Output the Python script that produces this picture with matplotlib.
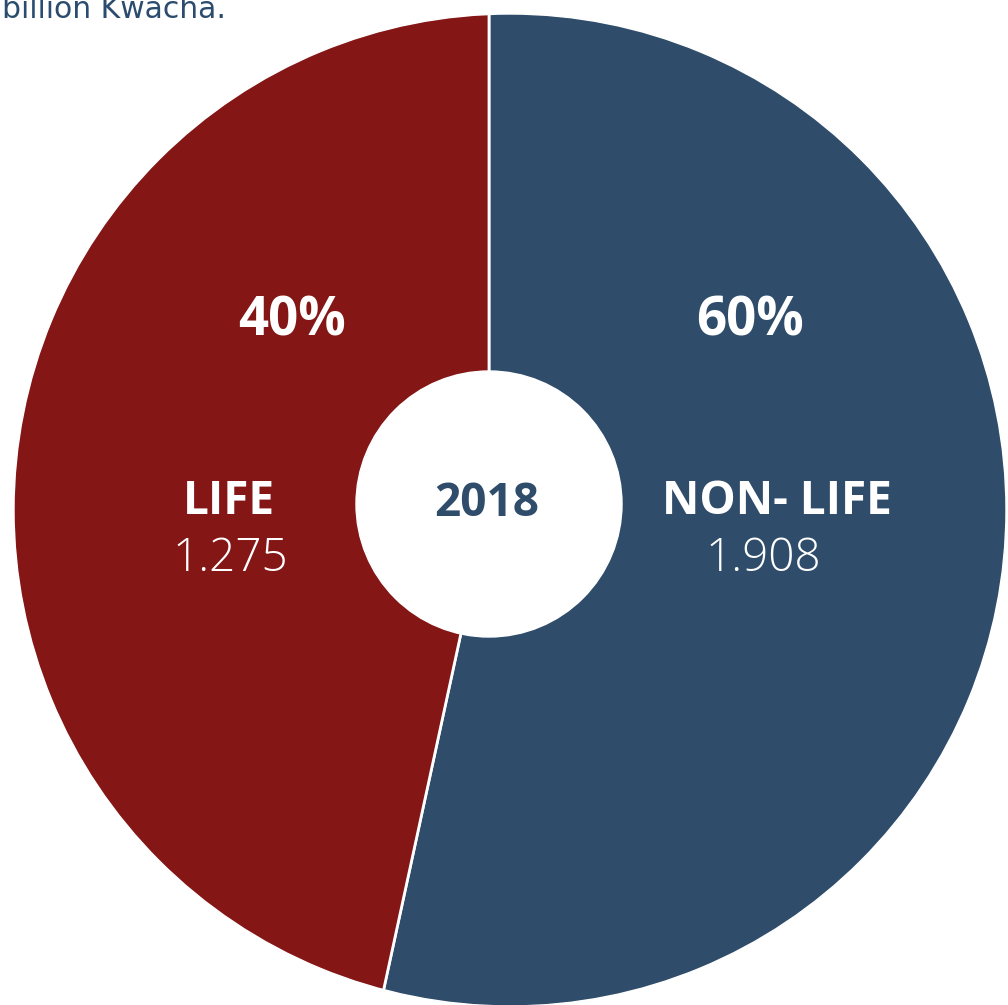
import matplotlib.pyplot as plt
from matplotlib.patches import Circle, Wedge

# data
labels = ['NON- LIFE', 'LIFE']
values = ['1.908', '1.275']
percents = ['60%', '40%']
shares = [53.4, 46.6]  # wedge sizes as drawn in the picture
colors = ['#2F4C6A', '#851616']
year = '2018'
note = 'billion Kwacha.'

W, H = 1008, 1005
fig = plt.figure(figsize=(W / 100, H / 100), dpi=100)
ax = fig.add_axes([0, 0, 1, 1])

# wedge apex / hole centre and outer rim (pixel units, y up)
apex = (489, H - 504)
rim_c, rim_r = (510, H - 510), 496

wedges, _ = ax.pie(shares, colors=colors, startangle=90, counterclock=False,
                   center=apex, radius=600,
                   wedgeprops=dict(edgecolor='white', linewidth=2))
# white mask outside the rim, and the hole
ax.add_patch(Wedge(rim_c, 2000, 0, 360, width=2000 - rim_r, color='white', zorder=3))
ax.add_patch(Circle(apex, 133, color='white', zorder=3))

ax.set_xlim(0, W)
ax.set_ylim(0, H)
ax.axis('off')

bold = dict(family='Open Sans', weight='bold', color='white', ha='center', va='center', zorder=4)
light = dict(family='Open Sans', weight='light', color='white', ha='center', va='center', zorder=4)

# percentages
ax.text(750, H - 321, percents[0], fontsize=38, **bold)
ax.text(292, H - 321, percents[1], fontsize=38, **bold)
# names
ax.text(777, H - 502, labels[0], fontsize=33, **bold)
ax.text(229, H - 502, labels[1], fontsize=33, **bold)
# values
ax.text(763, H - 559, values[0], fontsize=33, **light)
ax.text(230, H - 559, values[1], fontsize=33, **light)

ax.text(487, H - 503, year, fontsize=33, family='Open Sans', weight='bold',
        color=colors[0], ha='center', va='center', zorder=4)

# caption line, cut at the top as in the source
ax.text(2, H - 18, note, fontsize=21.5, family='DejaVu Sans', color='#2B4C6E',
        ha='left', va='baseline', zorder=5)

fig.savefig('out.png', dpi=100)
